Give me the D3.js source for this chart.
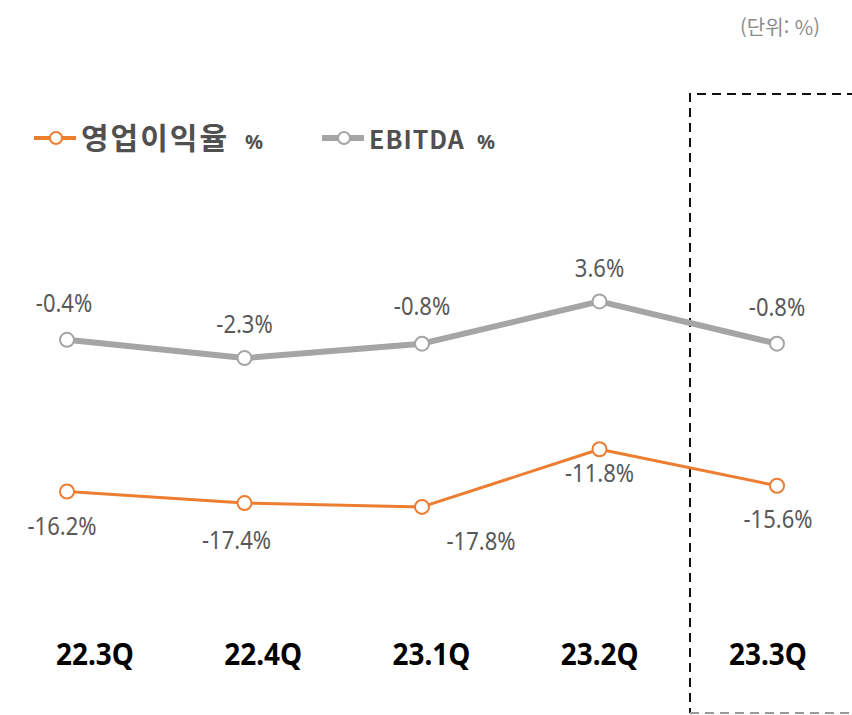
<!DOCTYPE html>
<html lang="ko">
<head>
<meta charset="utf-8">
<title>영업이익율 / EBITDA</title>
<script src="https://d3js.org/d3.v7.min.js"></script>
<style>
  body { margin: 0; background: #fff; }
  text { font-family: "Noto Sans", "Noto Sans CJK KR", sans-serif; }
</style>
</head>
<body>
<script>
// data
var quarters = ["22.3Q", "22.4Q", "23.1Q", "23.2Q", "23.3Q"];
var opMargin = [-16.2, -17.4, -17.8, -11.8, -15.6];
var ebitda = [-0.4, -2.3, -0.8, 3.6, -0.8];
var seriesNames = ["영업이익율", "EBITDA"];

var w = 852, h = 715;
var orange = "#ED7D31", gray = "#A5A5A5", labelColor = "#595959";

var svg = d3.select("body").append("svg")
  .attr("width", w)
  .attr("height", h);

var x = d3.scalePoint().domain(quarters).range([67, 777]);
var xLab = d3.scalePoint().domain(quarters).range([95, 768]);
var y = d3.scaleLinear().domain([-20, 5]).range([528, 288]);

// unit
svg.append("text")
  .attr("x", 820).attr("y", 35)
  .attr("text-anchor", "end")
  .attr("font-size", 20)
  .attr("fill", "#8c8c8c")
  .style("font-family", "'Noto Sans CJK KR', sans-serif")
  .text("(단위: %)");

// dashed highlight box
svg.append("path")
  .attr("d", "M856,94 H690 V713")
  .attr("fill", "none")
  .attr("stroke", "#111")
  .attr("stroke-width", 2)
  .attr("stroke-dasharray", "9,6");
svg.append("path")
  .attr("d", "M690,713 H856")
  .attr("fill", "none")
  .attr("stroke", "#999")
  .attr("stroke-width", 2)
  .attr("stroke-dasharray", "9,6");

// legend
function legendItem(x0, color, width, name, nameSize, spacing, pctX) {
  var g = svg.append("g");
  g.append("line")
    .attr("x1", x0).attr("x2", x0 + 42).attr("y1", 138).attr("y2", 138)
    .attr("stroke", color).attr("stroke-width", width);
  g.append("circle")
    .attr("cx", x0 + 22).attr("cy", 138).attr("r", 6)
    .attr("fill", "#fff").attr("stroke", color).attr("stroke-width", 2);
  g.append("text")
    .attr("x", x0 + 47).attr("y", 149)
    .attr("font-size", nameSize).attr("font-weight", "bold")
    .attr("letter-spacing", spacing)
    .attr("fill", "#505050")
    .style("font-family", "'Noto Sans CJK KR', 'Noto Sans', sans-serif")
    .text(name);
  g.append("text")
    .attr("x", pctX).attr("y", 149)
    .attr("font-size", 20).attr("font-weight", "bold")
    .attr("fill", "#505050")
    .text("%");
}
legendItem(34, orange, 4, seriesNames[0], 30, 2, 245);
legendItem(322, gray, 6, seriesNames[1], 25, 1, 477);

var line = d3.line()
  .x(function(d, i) { return x(quarters[i]); })
  .y(function(d) { return y(d); });

function drawSeries(values, color, width, dxs, dy) {
  svg.append("path")
    .datum(values)
    .attr("d", line)
    .attr("fill", "none")
    .attr("stroke", color)
    .attr("stroke-width", width)
    .attr("stroke-linejoin", "round");

  svg.selectAll(null)
    .data(values)
    .enter()
    .append("circle")
    .attr("cx", function(d, i) { return x(quarters[i]); })
    .attr("cy", function(d) { return y(d); })
    .attr("r", 7)
    .attr("fill", "#fff")
    .attr("stroke", color)
    .attr("stroke-width", 2);

  svg.selectAll(null)
    .data(values)
    .enter()
    .append("text")
    .attr("transform", function(d, i) {
      return "translate(" + (x(quarters[i]) + dxs[i]) + "," + (y(d) + dy[i]) + ") scale(0.88,1)";
    })
    .attr("text-anchor", "middle")
    .attr("dominant-baseline", "central")
    .attr("font-size", 25)
    .attr("fill", labelColor)
    .text(function(d) { return d.toFixed(1) + "%"; });
}

drawSeries(ebitda, gray, 6, [-3, 0, 0, 0, 0], [-37, -35, -38, -34, -37]);
drawSeries(opMargin, orange, 3, [-5, -8, 59, 0, 1], [34, 36, 34, 23, 33]);

// x axis labels
svg.selectAll(".xlab")
  .data(quarters)
  .enter()
  .append("text")
  .attr("class", "xlab")
  .attr("transform", function(d) { return "translate(" + xLab(d) + ",665) scale(0.9,1)"; })
  .attr("text-anchor", "middle")
  .attr("font-size", 31)
  .attr("font-weight", "bold")
  .attr("fill", "#000")
  .text(function(d) { return d; });
</script>
</body>
</html>
